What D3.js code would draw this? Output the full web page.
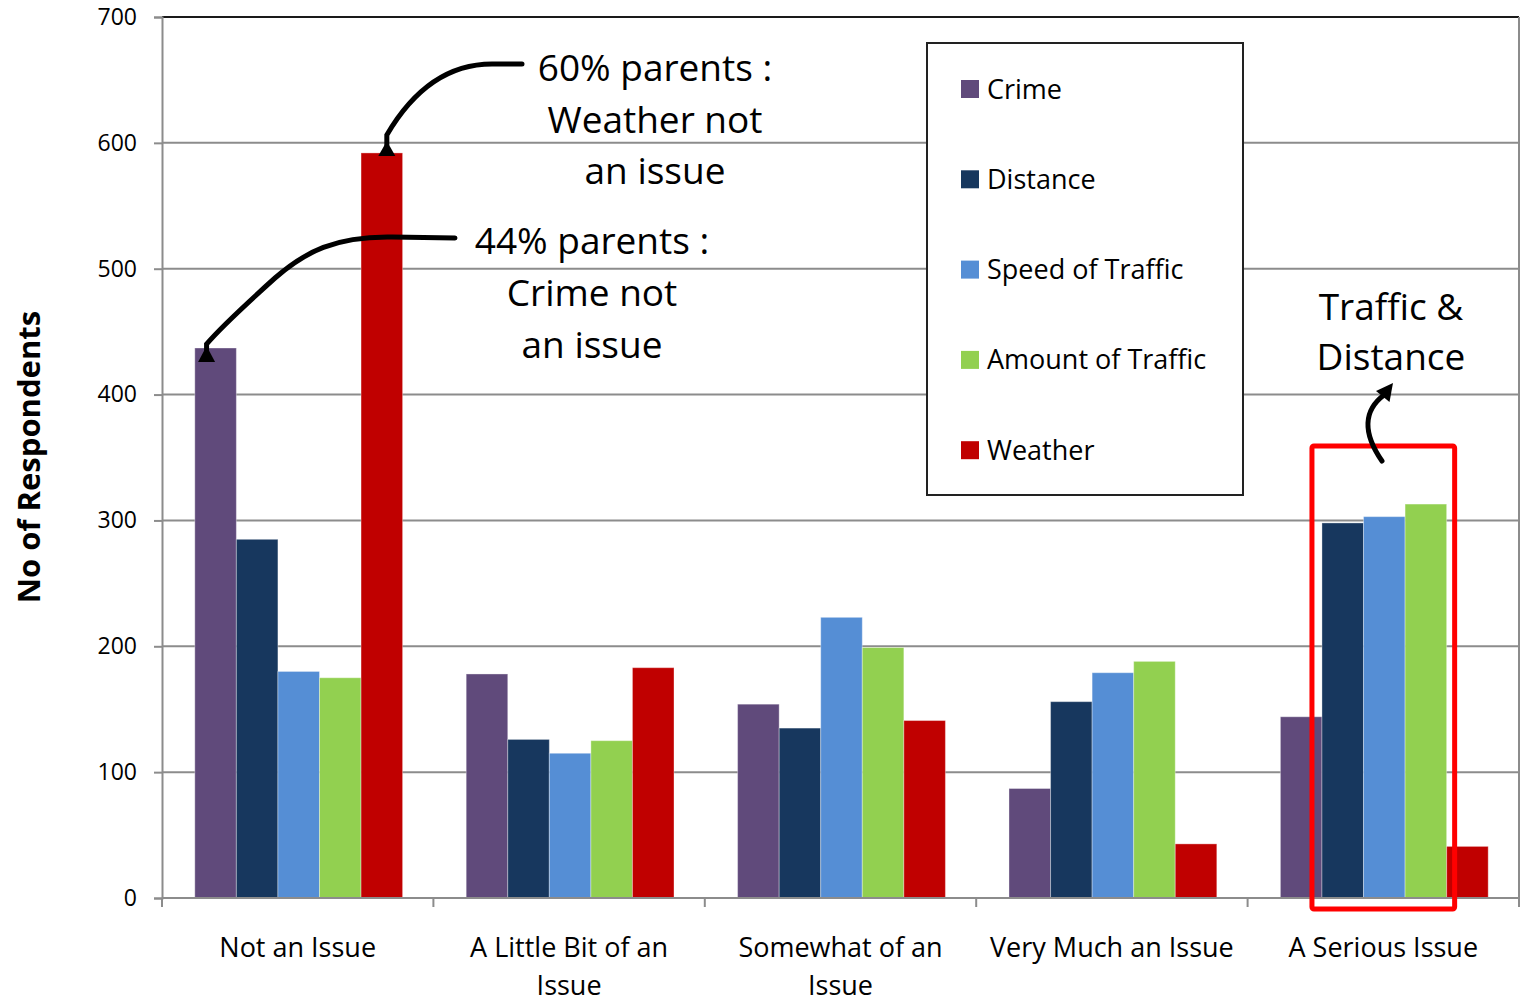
<!DOCTYPE html>
<html>
<head>
<meta charset="utf-8">
<script src="https://cdn.jsdelivr.net/npm/d3@7"></script>
<style>
  html, body { margin: 0; padding: 0; background: #fff; }
  svg { display: block; }
  text { font-family: "Open Sans", "Noto Sans", sans-serif; fill: #000; }
</style>
</head>
<body>
<svg id="chart" width="1520" height="1000"></svg>
<script>
// ---------------- data ----------------
const categories = ["Not an Issue", "A Little Bit of an Issue", "Somewhat of an Issue", "Very Much an Issue", "A Serious Issue"];
const tickLabelLines = [["Not an Issue"], ["A Little Bit of an", "Issue"], ["Somewhat of an", "Issue"], ["Very Much an Issue"], ["A Serious Issue"]];
const seriesNames = ["Crime", "Distance", "Speed of Traffic", "Amount of Traffic", "Weather"];
const crime = [437, 178, 154, 87, 144];
const distance = [285, 126, 135, 156, 298];
const speedOfTraffic = [180, 115, 223, 179, 303];
const amountOfTraffic = [175, 125, 199, 188, 313];
const weather = [592, 183, 141, 43, 41];
const yTicks = [0, 100, 200, 300, 400, 500, 600, 700];
const seriesColors = ["#604A7B", "#17375E", "#558ED5", "#92D050", "#C00000"];
const yTitle = "No of Respondents";
const noteWeather = ["60% parents :", "Weather not", "an issue"];
const noteCrime = ["44% parents :", "Crime not", "an issue"];
const noteTraffic = ["Traffic &", "Distance"];

const seriesValues = [crime, distance, speedOfTraffic, amountOfTraffic, weather];

// ---------------- layout ----------------
const svg = d3.select("#chart");
const L = 162, R = 1519, T = 17, B = 898;

const x0 = d3.scaleBand().domain(categories).range([L, R]).paddingInner(0).paddingOuter(0);
const x1 = d3.scaleBand().domain(seriesNames).range([0, x0.bandwidth()]).paddingInner(0).paddingOuter(0.765);
const y = d3.scaleLinear().domain([0, 700]).range([B, T]);
const color = d3.scaleOrdinal().domain(seriesNames).range(seriesColors);

// gridlines
svg.append("g").selectAll("line")
  .data(yTicks.filter(v => v > 0 && v < 700))
  .join("line")
  .attr("x1", L).attr("x2", R)
  .attr("y1", d => y(d)).attr("y2", d => y(d))
  .attr("stroke", "#8c8c8c").attr("stroke-width", 2);

// plot frame top and right
svg.append("line").attr("x1", L).attr("x2", R).attr("y1", y(700)).attr("y2", y(700))
  .attr("stroke", "#1a1a1a").attr("stroke-width", 2);
svg.append("line").attr("x1", R).attr("x2", R).attr("y1", y(700)).attr("y2", B)
  .attr("stroke", "#8c8c8c").attr("stroke-width", 2);

// bars
const groups = svg.append("g").selectAll("g")
  .data(categories)
  .join("g")
  .attr("transform", d => `translate(${x0(d) + 1},0)`);

groups.selectAll("rect")
  .data((c, ci) => seriesNames.map((s, si) => ({ s, v: seriesValues[si][ci] })))
  .join("rect")
  .attr("x", d => x1(d.s))
  .attr("width", x1.bandwidth())
  .attr("y", d => y(d.v))
  .attr("height", d => y(0) - y(d.v))
  .attr("fill", d => color(d.s))
  .attr("stroke", "rgba(255,255,255,0.35)")
  .attr("stroke-width", 1);

// y axis
const yAxis = svg.append("g")
  .attr("transform", `translate(${L},0)`)
  .call(d3.axisLeft(y).tickValues(yTicks).tickSize(8).tickPadding(17).tickFormat(d3.format("d")));
yAxis.select(".domain").attr("stroke", "#8c8c8c").attr("stroke-width", 2);
yAxis.selectAll(".tick line").attr("stroke", "#8c8c8c").attr("stroke-width", 2);
yAxis.selectAll(".tick text").style("font-family", "'Open Sans', sans-serif").style("font-size", "23px").attr("fill", "#000");

// x axis
svg.append("line").attr("x1", L).attr("x2", R).attr("y1", B).attr("y2", B)
  .attr("stroke", "#8c8c8c").attr("stroke-width", 2);
const boundaries = categories.map(c => x0(c)).concat([x0(categories[categories.length - 1]) + x0.bandwidth()]);
svg.append("g").selectAll("line")
  .data(boundaries)
  .join("line")
  .attr("x1", d => d).attr("x2", d => d)
  .attr("y1", B).attr("y2", B + 9)
  .attr("stroke", "#8c8c8c").attr("stroke-width", 2);

const xl = svg.append("g").selectAll("text")
  .data(categories)
  .join("text")
  .attr("text-anchor", "middle")
  .attr("x", d => x0(d) + x0.bandwidth() / 2)
  .attr("y", 957)
  .style("font-size", "27px");
xl.selectAll("tspan")
  .data((d, i) => tickLabelLines[i].map((t, j) => ({ t, j, x: x0(d) + x0.bandwidth() / 2 })))
  .join("tspan")
  .attr("x", d => d.x)
  .attr("y", d => 957 + d.j * 38)
  .text(d => d.t);

// y title
svg.append("text")
  .attr("transform", "translate(40,457) rotate(-90)")
  .attr("text-anchor", "middle")
  .style("font-size", "31px")
  .style("font-weight", "700")
  .text(yTitle);

// legend
const lg = svg.append("g");
lg.append("rect").attr("x", 927).attr("y", 43).attr("width", 316).attr("height", 452)
  .attr("fill", "#fff").attr("stroke", "#222").attr("stroke-width", 2);
const li = lg.selectAll("g.item").data(seriesNames).join("g").attr("class", "item")
  .attr("transform", (d, i) => `translate(961,${89 + i * 90.3})`);
li.append("rect").attr("x", 0).attr("y", -9).attr("width", 18).attr("height", 18).attr("fill", d => color(d));
li.append("text").attr("x", 26).attr("y", 9.5).style("font-size", "27px").text(d => d);

// annotations
function multiline(lines, cx, y0, dy, size) {
  const t = svg.append("text").attr("text-anchor", "middle").style("font-size", size + "px");
  t.selectAll("tspan").data(lines).join("tspan")
    .attr("x", cx).attr("y", (d, i) => y0 + i * dy).text(d => d);
}
multiline(noteWeather, 655, 81, 51.5, 37);
multiline(noteCrime, 592, 254, 52, 37);
multiline(noteTraffic, 1391, 320, 50, 37);

// arrows anchored on bars
const bw = x1.bandwidth();
const wx = x0(categories[0]) + 1 + x1("Weather") + bw / 2 + 5;
const wy = y(weather[0]);
const cx = x0(categories[0]) + 1 + x1("Crime") + bw / 2 - 9;
const cy = y(crime[0]);

svg.append("path")
  .attr("d", `M522,64 L492,64 C445,64 412,92 ${wx},${wy - 18} L${wx},${wy - 8}`)
  .attr("fill", "none").attr("stroke", "#000").attr("stroke-width", 5).attr("stroke-linecap", "round");
svg.append("path")
  .attr("d", `M${wx},${wy - 12} L${wx - 8.5},${wy + 3} L${wx + 8.5},${wy + 3} Z`)
  .attr("fill", "#000");

svg.append("path")
  .attr("d", `M455,238 L392,237 C335,236 305,252 275,278 C245,305 222,326 ${cx},${cy - 4} L${cx},${cy + 2}`)
  .attr("fill", "none").attr("stroke", "#000").attr("stroke-width", 5).attr("stroke-linecap", "round");
svg.append("path")
  .attr("d", `M${cx},${cy - 2} L${cx - 8.5},${cy + 14} L${cx + 8.5},${cy + 14} Z`)
  .attr("fill", "#000");

// highlight box around Distance / Speed / Amount in "A Serious Issue"
const hx0 = x0(categories[4]) + 1 + x1("Distance") - 10;
const hx1 = x0(categories[4]) + 1 + x1("Amount of Traffic") + bw + 8;
svg.append("rect")
  .attr("x", hx0).attr("y", 446).attr("width", hx1 - hx0).attr("height", 463)
  .attr("rx", 2)
  .attr("fill", "none").attr("stroke", "#FF0000").attr("stroke-width", 5);

svg.append("path")
  .attr("d", "M1382,461 C1362,432 1364,410 1384,395")
  .attr("fill", "none").attr("stroke", "#000").attr("stroke-width", 5).attr("stroke-linecap", "round");
svg.append("path")
  .attr("d", "M1393,383 L1376,391 L1389.5,402 Z")
  .attr("fill", "#000");
</script>
</body>
</html>
